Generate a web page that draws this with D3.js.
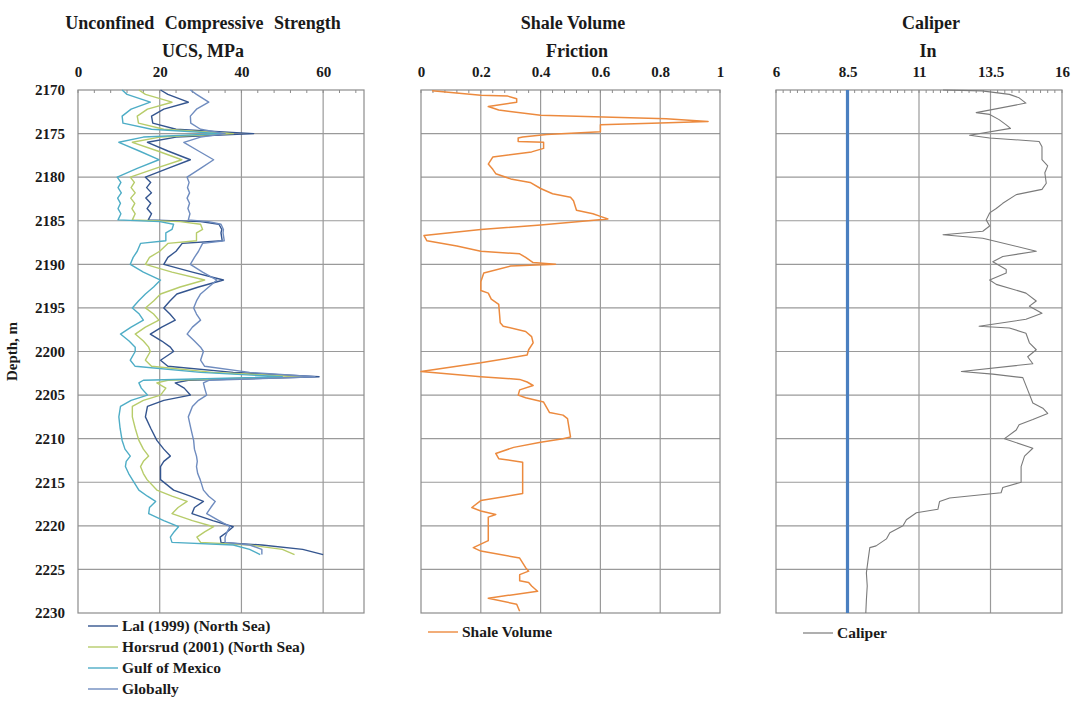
<!DOCTYPE html>
<html>
<head>
<meta charset="utf-8">
<script src="https://cdn.jsdelivr.net/npm/d3@7"></script>
<style>
  html, body { margin: 0; padding: 0; background: #fff; }
  svg text { font-family: "Liberation Serif", "Times New Roman", serif; font-weight: bold; fill: #1a1a1a; }
</style>
</head>
<body>
<svg id="chart" width="1078" height="709"></svg>
<script>
// ---- tick labels ----
const depthTicks = [2170, 2175, 2180, 2185, 2190, 2195, 2200, 2205, 2210, 2215, 2220, 2225, 2230];
const ucsTicks = [0, 20, 40, 60];
const shaleTicks = [0, 0.2, 0.4, 0.6, 0.8, 1];
const caliperTicks = [6, 8.5, 11, 13.5, 16];

// ---- UCS logs (MPa) sampled at shared depths ----
const ucsDepth = [2170.0, 2170.5, 2171.4, 2172.2, 2173.0, 2173.8, 2174.5, 2175.0, 2175.4, 2176.0,
  2177.0, 2178.0, 2179.0, 2180.0, 2180.6, 2181.2, 2181.8, 2182.4, 2183.0, 2183.6,
  2184.2, 2184.9, 2185.1, 2185.4, 2186.0, 2186.4, 2187.3, 2187.6, 2188.5, 2189.2,
  2190.0, 2190.9, 2191.8, 2192.6, 2193.4, 2194.2, 2195.0, 2195.7, 2196.4, 2197.2,
  2198.0, 2198.8, 2199.5, 2200.0, 2201.0, 2201.7, 2202.4, 2202.9, 2203.3, 2203.6,
  2204.2, 2205.0, 2205.6, 2206.3, 2207.5, 2208.8, 2210.2, 2211.2, 2212.0, 2212.6,
  2213.2, 2214.0, 2214.7, 2215.9, 2216.6, 2217.2, 2217.9, 2218.6, 2219.4, 2220.1,
  2220.7, 2221.3, 2221.9, 2222.2, 2222.7, 2223.3];
const ucsLal = [20.2, 22.0, 27.0, 21.0, 18.0, 18.3, 24.0, 43.0, 24.0, 17.0,
  22.0, 27.5, 22.0, 16.5, 17.8, 16.8, 18.0, 16.6, 17.8, 16.9,
  18.0, 17.2, 30.0, 34.5, 35.2, 35.0, 35.3, 25.5, 24.0, 22.0,
  21.0, 28.0, 35.6, 29.5, 24.2, 22.5, 21.0, 22.5, 23.8, 20.5,
  17.7, 20.5, 22.6, 23.4, 20.2, 22.0, 38.0, 59.0, 27.0, 23.8,
  26.0, 27.5, 21.0, 17.0, 16.5, 17.8, 19.3, 21.0, 22.6, 21.0,
  20.2, 20.2, 20.2, 23.4, 27.5, 30.7, 28.5, 27.9, 33.0, 38.0,
  36.5, 34.8, 35.0, 45.0, 55.0, 60.0];
const ucsHorsrud = [14.9, 16.5, 23.0, 17.0, 14.5, 14.8, 21.0, 38.0, 20.0, 13.3,
  19.5, 25.4, 19.0, 12.8, 13.8, 13.0, 14.0, 12.9, 13.9, 13.2,
  14.0, 13.3, 25.0, 30.0, 30.5, 29.0, 29.0, 22.0, 20.0, 17.5,
  16.5, 23.0, 31.0, 25.0, 20.2, 18.5, 16.5, 18.5, 19.8, 16.5,
  14.0, 16.0, 17.3, 17.7, 16.5, 18.0, 33.0, 55.0, 22.0, 19.3,
  21.5, 20.2, 16.0, 13.3, 13.3, 14.0, 14.9, 16.0, 17.3, 16.0,
  15.3, 16.0, 16.9, 19.3, 23.0, 26.7, 24.5, 23.0, 28.0, 33.2,
  31.0, 29.1, 30.0, 42.0, 50.0, 53.0];
const ucsGulf = [10.8, 12.0, 17.7, 13.0, 10.8, 11.0, 18.0, 35.0, 16.0, 10.0,
  15.0, 19.8, 14.5, 9.6, 10.5, 9.8, 10.6, 9.7, 10.4, 9.8,
  10.5, 9.8, 20.0, 23.4, 23.0, 21.5, 21.5, 15.3, 14.5, 13.5,
  12.8, 16.0, 20.2, 18.5, 16.5, 14.8, 13.3, 15.0, 16.0, 13.0,
  10.4, 12.5, 14.0, 14.0, 12.8, 14.0, 30.0, 50.0, 16.0, 14.9,
  15.5, 17.0, 13.0, 10.4, 10.0, 10.3, 10.8, 11.5, 12.8, 11.8,
  11.6, 12.4, 13.3, 14.9, 17.0, 19.0, 17.5, 17.3, 21.0, 24.6,
  23.5, 22.6, 23.0, 38.0, 42.0, 44.6];
const ucsGlobal = [27.5, 29.0, 32.0, 29.0, 27.5, 27.6, 30.0, 36.0, 30.0, 25.9,
  29.5, 33.2, 30.0, 26.7, 27.2, 26.8, 27.3, 26.7, 27.3, 26.9,
  27.4, 27.0, 32.0, 35.0, 35.6, 35.5, 35.8, 30.5, 29.5, 28.5,
  27.5, 30.5, 34.0, 32.0, 30.0, 29.0, 28.3, 29.0, 30.0, 28.0,
  26.7, 28.5, 30.0, 30.7, 30.0, 31.0, 42.0, 58.0, 32.0, 30.7,
  31.0, 31.5, 29.5, 28.0, 27.0, 27.6, 28.3, 28.5, 29.0, 29.2,
  29.0, 29.3, 29.9, 30.7, 32.0, 33.6, 32.5, 31.5, 34.5, 37.2,
  36.5, 36.0, 36.0, 42.0, 45.0, 45.0];

// ---- shale volume (fraction) ----
const shaleDepth = [2170.1, 2170.6, 2170.7, 2171.0, 2171.4, 2171.9, 2172.3, 2172.9, 2173.3, 2173.6,
  2173.8, 2174.0, 2174.8, 2175.1, 2175.4, 2175.5, 2175.9, 2176.0, 2176.7, 2177.1,
  2177.7, 2178.5, 2179.1, 2179.6, 2180.2, 2180.6, 2181.3, 2181.9, 2182.3, 2182.7,
  2183.8, 2184.2, 2184.5, 2184.8, 2185.5, 2186.0, 2186.7, 2187.3, 2187.9, 2188.5,
  2188.8, 2189.2, 2189.8, 2190.0, 2190.2, 2191.0, 2192.0, 2193.0, 2193.3, 2194.0,
  2194.6, 2196.7, 2197.1, 2197.7, 2198.3, 2199.0, 2199.8, 2200.4, 2201.3, 2202.3,
  2202.9, 2203.2, 2203.5, 2203.9, 2204.4, 2205.0, 2205.3, 2205.8, 2207.0, 2207.3,
  2207.7, 2209.8, 2210.0, 2210.4, 2211.0, 2211.7, 2212.3, 2212.7, 2216.3, 2217.1,
  2217.9, 2218.3, 2218.7, 2219.0, 2221.7, 2222.5, 2222.9, 2223.7, 2224.8, 2225.2,
  2225.6, 2226.3, 2226.5, 2226.9, 2227.5, 2228.3, 2229.0, 2229.8];
const shaleVolume = [0.037, 0.20, 0.29, 0.32, 0.32, 0.225, 0.26, 0.40, 0.82, 0.96,
  0.80, 0.60, 0.60, 0.42, 0.34, 0.325, 0.325, 0.41, 0.41, 0.37,
  0.24, 0.225, 0.24, 0.25, 0.30, 0.365, 0.40, 0.44, 0.50, 0.51,
  0.52, 0.575, 0.60, 0.625, 0.40, 0.20, 0.01, 0.02, 0.12, 0.20,
  0.33, 0.35, 0.375, 0.45, 0.30, 0.21, 0.20, 0.20, 0.225, 0.235,
  0.26, 0.265, 0.275, 0.35, 0.37, 0.375, 0.36, 0.355, 0.20, 0.0,
  0.20, 0.33, 0.355, 0.375, 0.33, 0.325, 0.35, 0.41, 0.43, 0.475,
  0.49, 0.50, 0.475, 0.40, 0.31, 0.25, 0.26, 0.34, 0.34, 0.20,
  0.17, 0.20, 0.25, 0.225, 0.225, 0.175, 0.20, 0.33, 0.35, 0.36,
  0.33, 0.33, 0.36, 0.37, 0.39, 0.225, 0.32, 0.33];

// ---- caliper (in) ----
const caliperDepth = [2170.0, 2170.1, 2170.5, 2170.9, 2171.5, 2172.6, 2172.8, 2173.4, 2174.0, 2174.4,
  2175.2, 2175.5, 2175.9, 2176.5, 2178.0, 2178.7, 2179.5, 2180.7, 2181.4, 2182.0,
  2183.0, 2183.6, 2184.1, 2184.9, 2185.6, 2186.2, 2186.6, 2187.0, 2188.5, 2189.1,
  2189.7, 2190.6, 2191.0, 2191.8, 2192.3, 2193.3, 2194.2, 2194.8, 2195.6, 2196.3,
  2197.1, 2197.3, 2197.9, 2199.0, 2199.8, 2200.6, 2201.4, 2202.3, 2202.6, 2203.0,
  2204.4, 2205.9, 2206.5, 2207.1, 2207.8, 2208.4, 2209.0, 2210.0, 2211.1, 2212.0,
  2213.2, 2215.0, 2215.6, 2216.2, 2216.8, 2217.2, 2218.1, 2218.5, 2219.3, 2220.0,
  2220.8, 2221.5, 2222.3, 2222.5, 2223.9, 2225.4, 2226.9, 2228.5, 2230.0];
const caliperSize = [11.84, 13.2, 14.16, 14.5, 14.74, 13.0, 13.47, 13.8, 14.05, 14.2,
  12.77, 13.47, 15.2, 15.3, 15.3, 15.5, 15.4, 15.45, 15.3, 14.4,
  13.93, 13.7, 13.47, 13.35, 13.47, 13.23, 11.84, 13.23, 15.1, 13.93,
  13.58, 14.05, 14.05, 13.47, 13.7, 14.74, 15.1, 14.86, 15.3, 14.74,
  13.1, 14.16, 14.74, 14.86, 15.1, 14.8, 14.98, 12.48, 13.58, 14.63,
  14.8, 14.98, 15.33, 15.5, 14.98, 14.5, 14.4, 13.99, 14.98, 14.69,
  14.57, 14.57, 13.93, 13.87, 12.07, 11.72, 11.66, 10.91, 10.56, 10.44,
  9.98, 9.86, 9.5, 9.28, 9.22, 9.16, 9.19, 9.16, 9.14];

const bitSize = 8.5;

// ---- layout ----
const svg = d3.select("#chart");
const yTop = 90, yBottom = 613;
const y = d3.scaleLinear().domain([2170, 2230]).range([yTop, yBottom]);

const gridColor = "#9a9a9a";
const frameColor = "#8c8c8c";

function panel(opts) {
  const x = d3.scaleLinear().domain(opts.domain).range([opts.x0, opts.x1]);
  const g = svg.append("g");

  // horizontal depth grid
  g.selectAll("line.hgrid").data(depthTicks.slice(1, -1)).join("line")
    .attr("x1", opts.x0).attr("x2", opts.x1)
    .attr("y1", d => y(d)).attr("y2", d => y(d))
    .attr("stroke", gridColor).attr("stroke-width", 1.2);

  // vertical value grid
  g.selectAll("line.vgrid").data(opts.ticks.filter(t => t > opts.domain[0] && t < opts.domain[1])).join("line")
    .attr("x1", d => x(d)).attr("x2", d => x(d))
    .attr("y1", yTop).attr("y2", yBottom)
    .attr("stroke", gridColor).attr("stroke-width", 1.2);

  // minor ticks along the top edge
  g.selectAll("line.minor").data(d3.range(opts.domain[0], opts.domain[1] + 1e-9, opts.minor)).join("line")
    .attr("x1", d => x(d)).attr("x2", d => x(d))
    .attr("y1", yTop).attr("y2", yTop + 3)
    .attr("stroke", frameColor).attr("stroke-width", 1);

  // frame
  g.append("rect")
    .attr("x", opts.x0).attr("y", yTop)
    .attr("width", opts.x1 - opts.x0).attr("height", yBottom - yTop)
    .attr("fill", "none").attr("stroke", frameColor).attr("stroke-width", 1.2);

  // top axis labels
  const ax = svg.append("g").attr("transform", `translate(0,${yTop})`)
    .call(d3.axisTop(x).tickValues(opts.ticks).tickSize(0).tickPadding(13).tickFormat(opts.format));
  ax.select(".domain").remove();
  ax.selectAll("text").attr("font-size", 15).attr("font-family", "Liberation Serif").attr("font-weight", "bold");

  // titles
  svg.append("text").attr("x", opts.titleX).attr("y", 29).attr("text-anchor", "middle")
    .attr("font-size", 18).attr("word-spacing", opts.wordSpacing || 0).text(opts.title);
  svg.append("text").attr("x", opts.titleX + (opts.subDx || 0)).attr("y", 57).attr("text-anchor", "middle")
    .attr("font-size", 18).text(opts.subtitle);
  return x;
}

// ---- UCS track ----
const xU = panel({ domain: [0, 70], x0: 78, x1: 364, ticks: ucsTicks, minor: 4, format: d3.format("d"),
  title: "Unconfined Compressive Strength", subtitle: "UCS, MPa", titleX: 203, wordSpacing: 6 });

const ucsSeries = [
  { name: "Lal (1999) (North Sea)", values: ucsLal, color: "#34558f" },
  { name: "Horsrud (2001) (North Sea)", values: ucsHorsrud, color: "#b7cc6a" },
  { name: "Gulf of Mexico", values: ucsGulf, color: "#4eadc6" },
  { name: "Globally", values: ucsGlobal, color: "#6f8cbf" }
];

const lineU = d3.line().x(d => xU(d[1])).y(d => y(d[0]));
svg.append("g").selectAll("path").data(ucsSeries).join("path")
  .attr("d", s => lineU(ucsDepth.map((d, i) => [d, s.values[i]])))
  .attr("fill", "none").attr("stroke", s => s.color).attr("stroke-width", 1.4)
  .attr("stroke-linejoin", "round");

// depth axis
const ay = svg.append("g").attr("transform", "translate(78,0)")
  .call(d3.axisLeft(y).tickValues(depthTicks).tickSize(0).tickPadding(13).tickFormat(d3.format("d")));
ay.select(".domain").remove();
ay.selectAll("text").attr("font-size", 15).attr("font-family", "Liberation Serif").attr("font-weight", "bold");
svg.append("text").attr("transform", `translate(17,${(yTop + yBottom) / 2}) rotate(-90)`)
  .attr("text-anchor", "middle").attr("font-size", 15).text("Depth, m");

// UCS legend
const legU = svg.append("g").selectAll("g").data(ucsSeries).join("g")
  .attr("transform", (d, i) => `translate(88,${626 + i * 21})`);
legU.append("line").attr("x1", 0).attr("x2", 30).attr("y1", 0).attr("y2", 0)
  .attr("stroke", d => d.color).attr("stroke-width", 1.4);
legU.append("text").attr("x", 34).attr("y", 5).attr("font-size", 15.5).text(d => d.name);

// ---- shale volume track ----
const xS = panel({ domain: [0, 1], x0: 421, x1: 720, ticks: shaleTicks, minor: 0.04,
  format: d => d === 0 || d === 1 ? d3.format("d")(d) : d3.format(".1f")(d),
  title: "Shale Volume", subtitle: "Friction", titleX: 573, subDx: 4 });
const shaleColor = "#ec8a3e";
svg.append("path")
  .attr("d", d3.line().x(d => xS(d[1])).y(d => y(d[0]))(shaleDepth.map((d, i) => [d, shaleVolume[i]])))
  .attr("fill", "none").attr("stroke", shaleColor).attr("stroke-width", 1.5).attr("stroke-linejoin", "round");
const legS = svg.append("g").attr("transform", "translate(428,632)");
legS.append("line").attr("x1", 0).attr("x2", 30).attr("stroke", shaleColor).attr("stroke-width", 1.4);
legS.append("text").attr("x", 34).attr("y", 5).attr("font-size", 15.5).text("Shale Volume");

// ---- caliper track ----
const xC = panel({ domain: [6, 16], x0: 776, x1: 1062, ticks: caliperTicks, minor: 0.25,
  format: d => String(d), title: "Caliper", subtitle: "In", titleX: 931, subDx: -3 });
svg.append("line")
  .attr("x1", xC(bitSize)).attr("x2", xC(bitSize)).attr("y1", yTop).attr("y2", yBottom)
  .attr("stroke", "#4a7fc0").attr("stroke-width", 3.2);
const caliperColor = "#7a7a7a";
svg.append("path")
  .attr("d", d3.line().x(d => xC(d[1])).y(d => y(d[0]))(caliperDepth.map((d, i) => [d, caliperSize[i]])))
  .attr("fill", "none").attr("stroke", caliperColor).attr("stroke-width", 1.1).attr("stroke-linejoin", "round");
const legC = svg.append("g").attr("transform", "translate(803,633)");
legC.append("line").attr("x1", 0).attr("x2", 30).attr("stroke", caliperColor).attr("stroke-width", 1.2);
legC.append("text").attr("x", 34).attr("y", 5).attr("font-size", 15.5).text("Caliper");
</script>
</body>
</html>
